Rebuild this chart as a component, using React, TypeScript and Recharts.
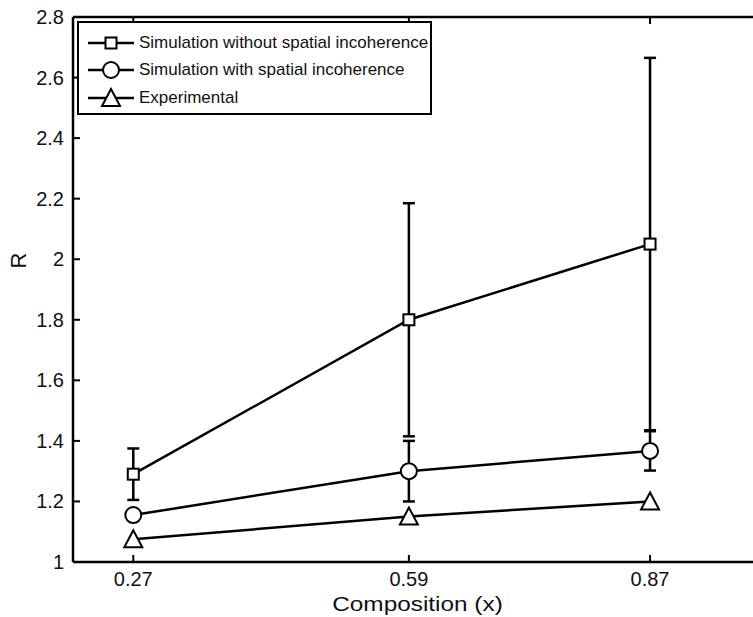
import { ComposedChart, Line, XAxis, YAxis, ErrorBar, Legend } from "recharts";

// composition values on the x axis
const composition = [0.27, 0.59, 0.87];

// R ratio for each series, with symmetric error half-widths
const withoutIncoherence = [1.29, 1.8, 2.05];
const withoutIncoherenceErr = [0.085, 0.385, 0.615];
const withIncoherence = [1.155, 1.3, 1.367];
const withIncoherenceErr = [0, 0.1, 0.065];
const experimental = [1.075, 1.15, 1.2];

const xTicks = [0.27, 0.59, 0.87];
const yTicks = [1, 1.2, 1.4, 1.6, 1.8, 2, 2.2, 2.4, 2.6, 2.8];

const seriesNames = [
  "Simulation without spatial incoherence",
  "Simulation with spatial incoherence",
  "Experimental",
];

const data = composition.map((x, i) => ({
  x,
  noInc: withoutIncoherence[i],
  noIncErr: withoutIncoherenceErr[i],
  inc: withIncoherence[i],
  incErr: withIncoherenceErr[i],
  exp: experimental[i],
}));

const FONT = "'Liberation Sans', Arial, Helvetica, sans-serif";
const LW = 2.5;

function squareMark(cx: number, cy: number, key?: string) {
  return <rect key={key} x={cx - 5.5} y={cy - 5.5} width={11} height={11} fill="#fff" stroke="#000" strokeWidth={2} />;
}
function circleMark(cx: number, cy: number, key?: string) {
  return <circle key={key} cx={cx} cy={cy} r={8} fill="#fff" stroke="#000" strokeWidth={2} />;
}
function triangleMark(cx: number, cy: number, key?: string) {
  return (
    <polygon
      key={key}
      points={`${cx},${cy - 9} ${cx - 9},${cy + 8} ${cx + 9},${cy + 8}`}
      fill="#fff"
      stroke="#000"
      strokeWidth={2}
      strokeLinejoin="miter"
    />
  );
}
const markers = [squareMark, circleMark, triangleMark];

const BottomTick = (props: any) => {
  const { x, y, payload } = props;
  return (
    <g>
      <line x1={x} x2={x} y1={y} y2={y - 7} stroke="#000" strokeWidth={2} />
      <text x={x} y={y + 24} textAnchor="middle" fontFamily={FONT} fontSize={20} fill="#111">
        {payload.value}
      </text>
    </g>
  );
};

const TopTick = (props: any) => {
  const { x, y } = props;
  return <line x1={x} x2={x} y1={y} y2={y + 7} stroke="#000" strokeWidth={2} />;
};

const LeftTick = (props: any) => {
  const { x, y, payload } = props;
  return (
    <g>
      <line x1={x} x2={x + 7} y1={y} y2={y} stroke="#000" strokeWidth={2} />
      <text x={x - 9} y={y + 7} textAnchor="end" fontFamily={FONT} fontSize={20} fill="#111">
        {payload.value}
      </text>
    </g>
  );
};

// x axis title, a little wider than the stock face
const XTitle = (p: any) => {
  const vb = p.viewBox || { x: 0, y: 0, width: 0, height: 0 };
  const cx = vb.x + vb.width / 2;
  const by = 611;
  return (
    <text
      x={0}
      y={0}
      transform={`translate(${cx} ${by}) scale(1.16 1)`}
      textAnchor="middle"
      fontFamily={FONT}
      fontSize={21}
      fill="#111"
    >
      Composition (x)
    </text>
  );
};

const YTitle = (p: any) => {
  const vb = p.viewBox || { x: 0, y: 0, height: 0 };
  const cx = 18;
  const cy = vb.y + vb.height / 2 - 29;
  return (
    <text x={cx} y={cy} transform={`rotate(-90 ${cx} ${cy})`} textAnchor="middle" dominantBaseline="central" fontFamily={FONT} fontSize={22} fill="#111">
      R
    </text>
  );
};

const LegendBox = () => (
  <div
    style={{
      width: 355,
      height: 94,
      boxSizing: "border-box",
      border: "2px solid #000",
      background: "#fff",
      fontFamily: FONT,
      fontSize: 17,
      color: "#111",
      paddingTop: 6,
    }}
  >
    {seriesNames.map((name, i) => (
      <div key={name} style={{ display: "flex", alignItems: "center", height: 27.5 }}>
        <svg width={60} height={22} style={{ flex: "none" }}>
          <line x1={9} x2={55} y1={11} y2={11} stroke="#000" strokeWidth={LW} />
          {markers[i](32, 11)}
        </svg>
        <span style={{ whiteSpace: "nowrap" }}>{name}</span>
      </div>
    ))}
  </div>
);

export default function App() {
  return (
    <div style={{ position: "fixed", left: 0, top: 0, width: 753, height: 617, overflow: "hidden", background: "#fff" }}>
      <ComposedChart width={780} height={617} data={data} margin={{ top: 2, right: 18, bottom: 0, left: 0 }}>
        <XAxis
          dataKey="x"
          type="number"
          domain={[0.2, 1.0]}
          ticks={xTicks}
          allowDataOverflow
          height={55}
          tickSize={0}
          tickMargin={0}
          tick={<BottomTick />}
          axisLine={{ stroke: "#000", strokeWidth: LW }}
          label={{ content: XTitle }}
        />
        <XAxis
          xAxisId="top"
          orientation="top"
          dataKey="x"
          type="number"
          domain={[0.2, 1.0]}
          ticks={xTicks}
          allowDataOverflow
          height={15}
          tickSize={0}
          tickMargin={0}
          tick={<TopTick />}
          axisLine={{ stroke: "#000", strokeWidth: LW }}
        />
        <YAxis
          type="number"
          domain={[1, 2.8]}
          ticks={yTicks}
          allowDataOverflow
          width={73}
          tickSize={0}
          tickMargin={0}
          tick={<LeftTick />}
          axisLine={{ stroke: "#000", strokeWidth: LW }}
          label={{ content: YTitle }}
        />
        <Legend
          layout="horizontal"
          verticalAlign="middle"
          align="center"
          content={<LegendBox />}
          wrapperStyle={{ left: 77, top: 21, width: 355, height: 94 }}
        />
        <Line
          dataKey="noInc"
          name={seriesNames[0]}
          type="linear"
          stroke="#000"
          strokeWidth={LW}
          isAnimationActive={false}
          dot={(p: any) => squareMark(p.cx, p.cy, `sq-${p.index}`)}
          activeDot={false}
        >
          <ErrorBar dataKey="noIncErr" direction="y" width={6} stroke="#000" strokeWidth={LW} isAnimationActive={false} />
        </Line>
        <Line
          dataKey="inc"
          name={seriesNames[1]}
          type="linear"
          stroke="#000"
          strokeWidth={LW}
          isAnimationActive={false}
          dot={(p: any) => circleMark(p.cx, p.cy, `ci-${p.index}`)}
          activeDot={false}
        >
          <ErrorBar dataKey="incErr" direction="y" width={6} stroke="#000" strokeWidth={LW} isAnimationActive={false} />
        </Line>
        <Line
          dataKey="exp"
          name={seriesNames[2]}
          type="linear"
          stroke="#000"
          strokeWidth={LW}
          isAnimationActive={false}
          dot={(p: any) => triangleMark(p.cx, p.cy, `tr-${p.index}`)}
          activeDot={false}
        />
      </ComposedChart>
    </div>
  );
}
